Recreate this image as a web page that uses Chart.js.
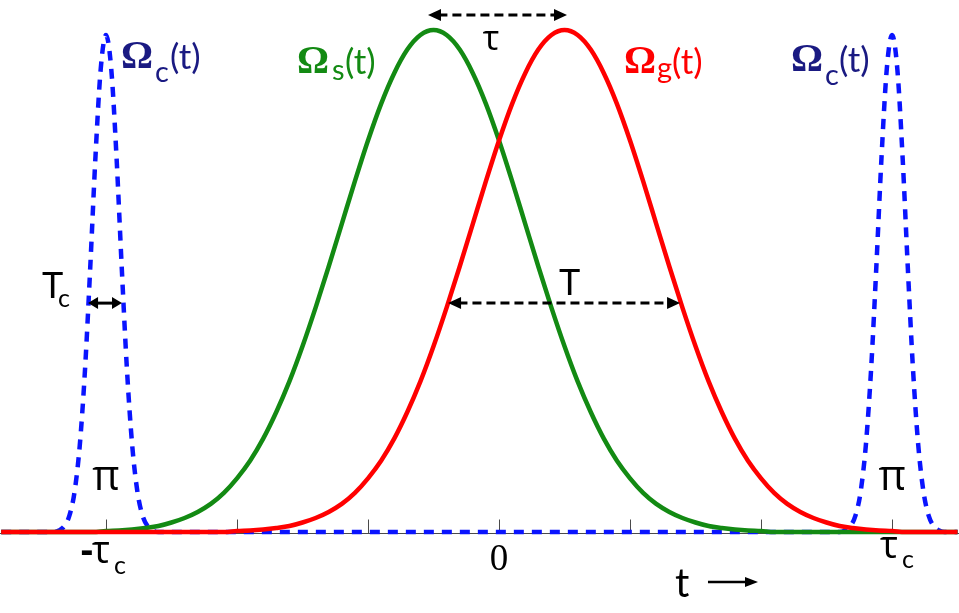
<!DOCTYPE html>
<html>
<head>
<meta charset="utf-8">
<script src="https://cdn.jsdelivr.net/npm/chart.js@4.4.0/dist/chart.umd.min.js"></script>
<style>
  body { margin: 0; background: #fff; }
</style>
</head>
<body>
<canvas id="myChart" width="959" height="613"></canvas>
<script>
// time grid (units of the tick spacing) for the two long pulses
var tGrid = [-3.8,-3.7,-3.6,-3.5,-3.4,-3.3,-3.2,-3.1,-3.0,-2.9,-2.8,-2.7,-2.6,-2.5,-2.4,-2.3,-2.2,-2.1,
             -2.0,-1.9,-1.8,-1.7,-1.6,-1.5,-1.4,-1.3,-1.2,-1.1,-1.0,-0.9,-0.8,-0.7,-0.6,-0.5,-0.4,-0.3,-0.2,-0.1,
             0.0,0.1,0.2,0.3,0.4,0.5,0.6,0.7,0.8,0.9,1.0,1.1,1.2,1.3,1.4,1.5,1.6,1.7,1.8,1.9,
             2.0,2.1,2.2,2.3,2.4,2.5,2.6,2.7,2.8,2.9,3.0,3.1,3.2,3.3,3.4,3.5];

// Omega_s(t), green
var omegaS = [0,0,0,0,0,0,0,0,
              0.002,0.003,0.005,0.008,0.012,0.019,0.028,0.040,0.056,0.078,
              0.107,0.142,0.186,0.239,0.300,0.370,0.447,0.529,0.614,0.699,
              0.780,0.853,0.914,0.961,0.990,1.000,0.990,0.961,0.914,0.853,
              0.780,0.699,0.614,0.529,0.447,0.370,0.300,0.239,0.186,0.142,
              0.107,0.078,0.056,0.040,0.028,0.019,0.012,0.008,0.005,0.003,
              0.002,
              0,0,0,0,0,0,0,0,0,0,0,0,0,0,0];

// Omega_g(t), red
var omegaG = [0,0,0,0,0,0,0,0,0,0,0,0,0,0,0,0,0,0,
              0.002,0.003,0.005,0.008,0.012,0.019,0.028,0.040,0.056,0.078,
              0.107,0.142,0.186,0.239,0.300,0.370,0.447,0.529,0.614,0.699,
              0.780,0.853,0.914,0.961,0.990,1.000,0.990,0.961,0.914,0.853,
              0.780,0.699,0.614,0.529,0.447,0.370,0.300,0.239,0.186,0.142,
              0.107,0.078,0.056,0.040,0.028,0.019,0.012,0.008,0.005,0.003,
              0.002,
              0,0,0,0,0];

// Omega_c(t), the two short pi pulses (blue dashed)
var tPulse = [-3.8,-3.4,-3.36,-3.32,-3.28,-3.24,-3.2,-3.16,-3.12,-3.08,-3.04,-3.0,
              -2.96,-2.92,-2.88,-2.84,-2.8,-2.76,-2.72,-2.68,-2.64,-2.6,
              2.6,2.64,2.68,2.72,2.76,2.8,2.84,2.88,2.92,2.96,3.0,
              3.04,3.08,3.12,3.16,3.2,3.24,3.28,3.32,3.36,3.4,3.5];
var omegaC = [0,0,0.003,0.011,0.032,0.080,0.173,0.324,0.528,0.749,0.923,0.990,
              0.923,0.749,0.528,0.324,0.173,0.080,0.032,0.011,0.003,0,
              0,0.003,0.011,0.032,0.080,0.173,0.324,0.528,0.749,0.923,0.990,
              0.923,0.749,0.528,0.324,0.173,0.080,0.032,0.011,0.003,0,0];

var tickValues = [-3,-2,-1,0,1,2,3];

var SANS = "Lato, 'Open Sans', sans-serif";
var GREEK = "'Open Sans', 'DejaVu Sans', sans-serif";
var SERIF = "'Liberation Serif', serif";
var NAVY = '#1a1a82';
var GREEN = '#138a13';
var RED = '#ff0000';

function pts(xs, ys) {
  return xs.map(function (x, i) { return { x: x, y: ys[i] }; });
}

function arrow(c, x1, y1, x2, y2, head1, head2, dashed, lw, hl, hw) {
  c.save();
  c.strokeStyle = '#000';
  c.fillStyle = '#000';
  c.lineWidth = lw;
  c.setLineDash(dashed ? [9, 5] : []);
  c.beginPath();
  c.moveTo(x1 + (head1 ? hl * 0.8 : 0), y1);
  c.lineTo(x2 - (head2 ? hl * 0.8 : 0), y2);
  c.stroke();
  c.setLineDash([]);
  if (head1) {
    c.beginPath(); c.moveTo(x1, y1); c.lineTo(x1 + hl, y1 - hw); c.lineTo(x1 + hl, y1 + hw); c.closePath(); c.fill();
  }
  if (head2) {
    c.beginPath(); c.moveTo(x2, y2); c.lineTo(x2 - hl, y2 - hw); c.lineTo(x2 - hl, y2 + hw); c.closePath(); c.fill();
  }
  c.restore();
}

function txt(c, s, x, y, font, color, align) {
  c.font = font;
  c.fillStyle = color;
  c.textAlign = align || 'left';
  c.textBaseline = 'alphabetic';
  c.fillText(s, x, y);
}

// axis line with little upward ticks, drawn under the curves
var axisPlugin = {
  id: 'axis',
  beforeDatasetsDraw: function (chart) {
    var c = chart.ctx, xs = chart.scales.x, ys = chart.scales.y;
    var y0 = Math.round(ys.getPixelForValue(0)) + 1.5;
    c.save();
    c.strokeStyle = '#4a4a4a';
    c.lineWidth = 1;
    c.beginPath();
    c.moveTo(0, y0); c.lineTo(chart.width, y0);
    tickValues.forEach(function (v) {
      var x = Math.round(xs.getPixelForValue(v)) + 0.5;
      c.moveTo(x, y0); c.lineTo(x, y0 - 14);
    });
    c.stroke();
    c.restore();
  }
};

// labels and arrows
var notePlugin = {
  id: 'notes',
  afterDatasetsDraw: function (chart) {
    var c = chart.ctx, xs = chart.scales.x, ys = chart.scales.y;
    function X(v) { return xs.getPixelForValue(v); }
    function Y(v) { return ys.getPixelForValue(v); }
    c.save();

    // tau between the peaks, T across the red pulse, Tc across the pi pulse, time arrow
    arrow(c, X(-0.542), Y(1.03), X(0.519), Y(1.03), true, true, true, 3, 13, 6);
    arrow(c, X(-0.389), Y(0.456), X(1.382), Y(0.456), true, true, true, 3, 13, 6);
    arrow(c, X(-3.137), Y(0.456), X(-2.878), Y(0.456), true, true, false, 3, 10, 6);
    arrow(c, X(1.595), Y(-0.0996), X(1.977), Y(-0.0996), false, true, false, 2.5, 13, 5);

    // pulse names
    txt(c, 'Ω', 121, 68, 'bold 40px ' + SERIF, NAVY);
    txt(c, 'c', 155, 82, '29px ' + SANS, NAVY);
    txt(c, '(t)', 170, 69, '35px ' + SANS, NAVY);

    txt(c, 'Ω', 791, 71, 'bold 40px ' + SERIF, NAVY);
    txt(c, 'c', 825, 85, '29px ' + SANS, NAVY);
    txt(c, '(t)', 839, 72, '35px ' + SANS, NAVY);

    txt(c, 'Ω', 297, 73, 'bold 40px ' + SERIF, GREEN);
    txt(c, 's', 332, 80, '29px ' + SANS, GREEN);
    txt(c, '(t)', 345, 74, '35px ' + SANS, GREEN);

    txt(c, 'Ω', 624, 73, 'bold 40px ' + SERIF, RED);
    txt(c, 'g', 657, 78, '29px ' + SANS, RED);
    txt(c, '(t)', 672, 74, '35px ' + SANS, RED);

    txt(c, 'τ', 491, 50, '35px ' + GREEK, '#000', 'center');
    txt(c, 'T', 559, 295, '36px ' + SANS, '#000');
    txt(c, 'T', 42, 298, '36px ' + SANS, '#000');
    txt(c, 'c', 58, 307, '25px ' + SANS, '#000');

    txt(c, 'π', X(-3), 490, '42px ' + GREEK, '#000', 'center');
    txt(c, 'π', X(3), 490, '42px ' + GREEK, '#000', 'center');

    // tick labels
    var xl = X(-3) - 5;
    txt(c, 'τ', xl, 563, '38px ' + GREEK, '#000', 'center');
    txt(c, '-', xl - 8, 563, 'bold 38px ' + GREEK, '#000', 'right');
    txt(c, 'c', xl + 13, 574, '25px ' + SANS, '#000');
    txt(c, '0', X(0), 570, '37px ' + SERIF, '#000', 'center');
    var xr = X(3) - 3;
    txt(c, 'τ', xr, 558, '38px ' + GREEK, '#000', 'center');
    txt(c, 'c', xr + 13, 568, '25px ' + SANS, '#000');

    txt(c, 't', 675, 597, '40px ' + SANS, '#000');
    c.restore();
  }
};

var ctx = document.getElementById('myChart');
var myChart = new Chart(ctx, {
  type: 'line',
  data: {
    datasets: [
      {
        data: pts(tGrid, omegaG),
        label: 'Ωg(t)',
        borderColor: RED,
        borderWidth: 4.5
      },
      {
        data: pts(tGrid, omegaS),
        label: 'Ωs(t)',
        borderColor: GREEN,
        borderWidth: 4.5
      },
      {
        data: pts(tPulse, omegaC),
        label: 'Ωc(t)',
        borderColor: '#0a14ff',
        borderWidth: 4.5,
        borderDash: [10, 8]
      }
    ]
  },
  options: {
    responsive: false,
    animation: false,
    layout: { padding: 0 },
    elements: {
      point: { radius: 0 },
      line: { cubicInterpolationMode: 'monotone', fill: false, borderCapStyle: 'butt' }
    },
    plugins: { legend: { display: false }, tooltip: { enabled: false } },
    scales: {
      x: { type: 'linear', min: -3.809, max: 3.511, display: false },
      y: { min: -0.1613, max: 1.0598, display: false }
    }
  },
  plugins: [axisPlugin, notePlugin]
});
</script>
</body>
</html>
